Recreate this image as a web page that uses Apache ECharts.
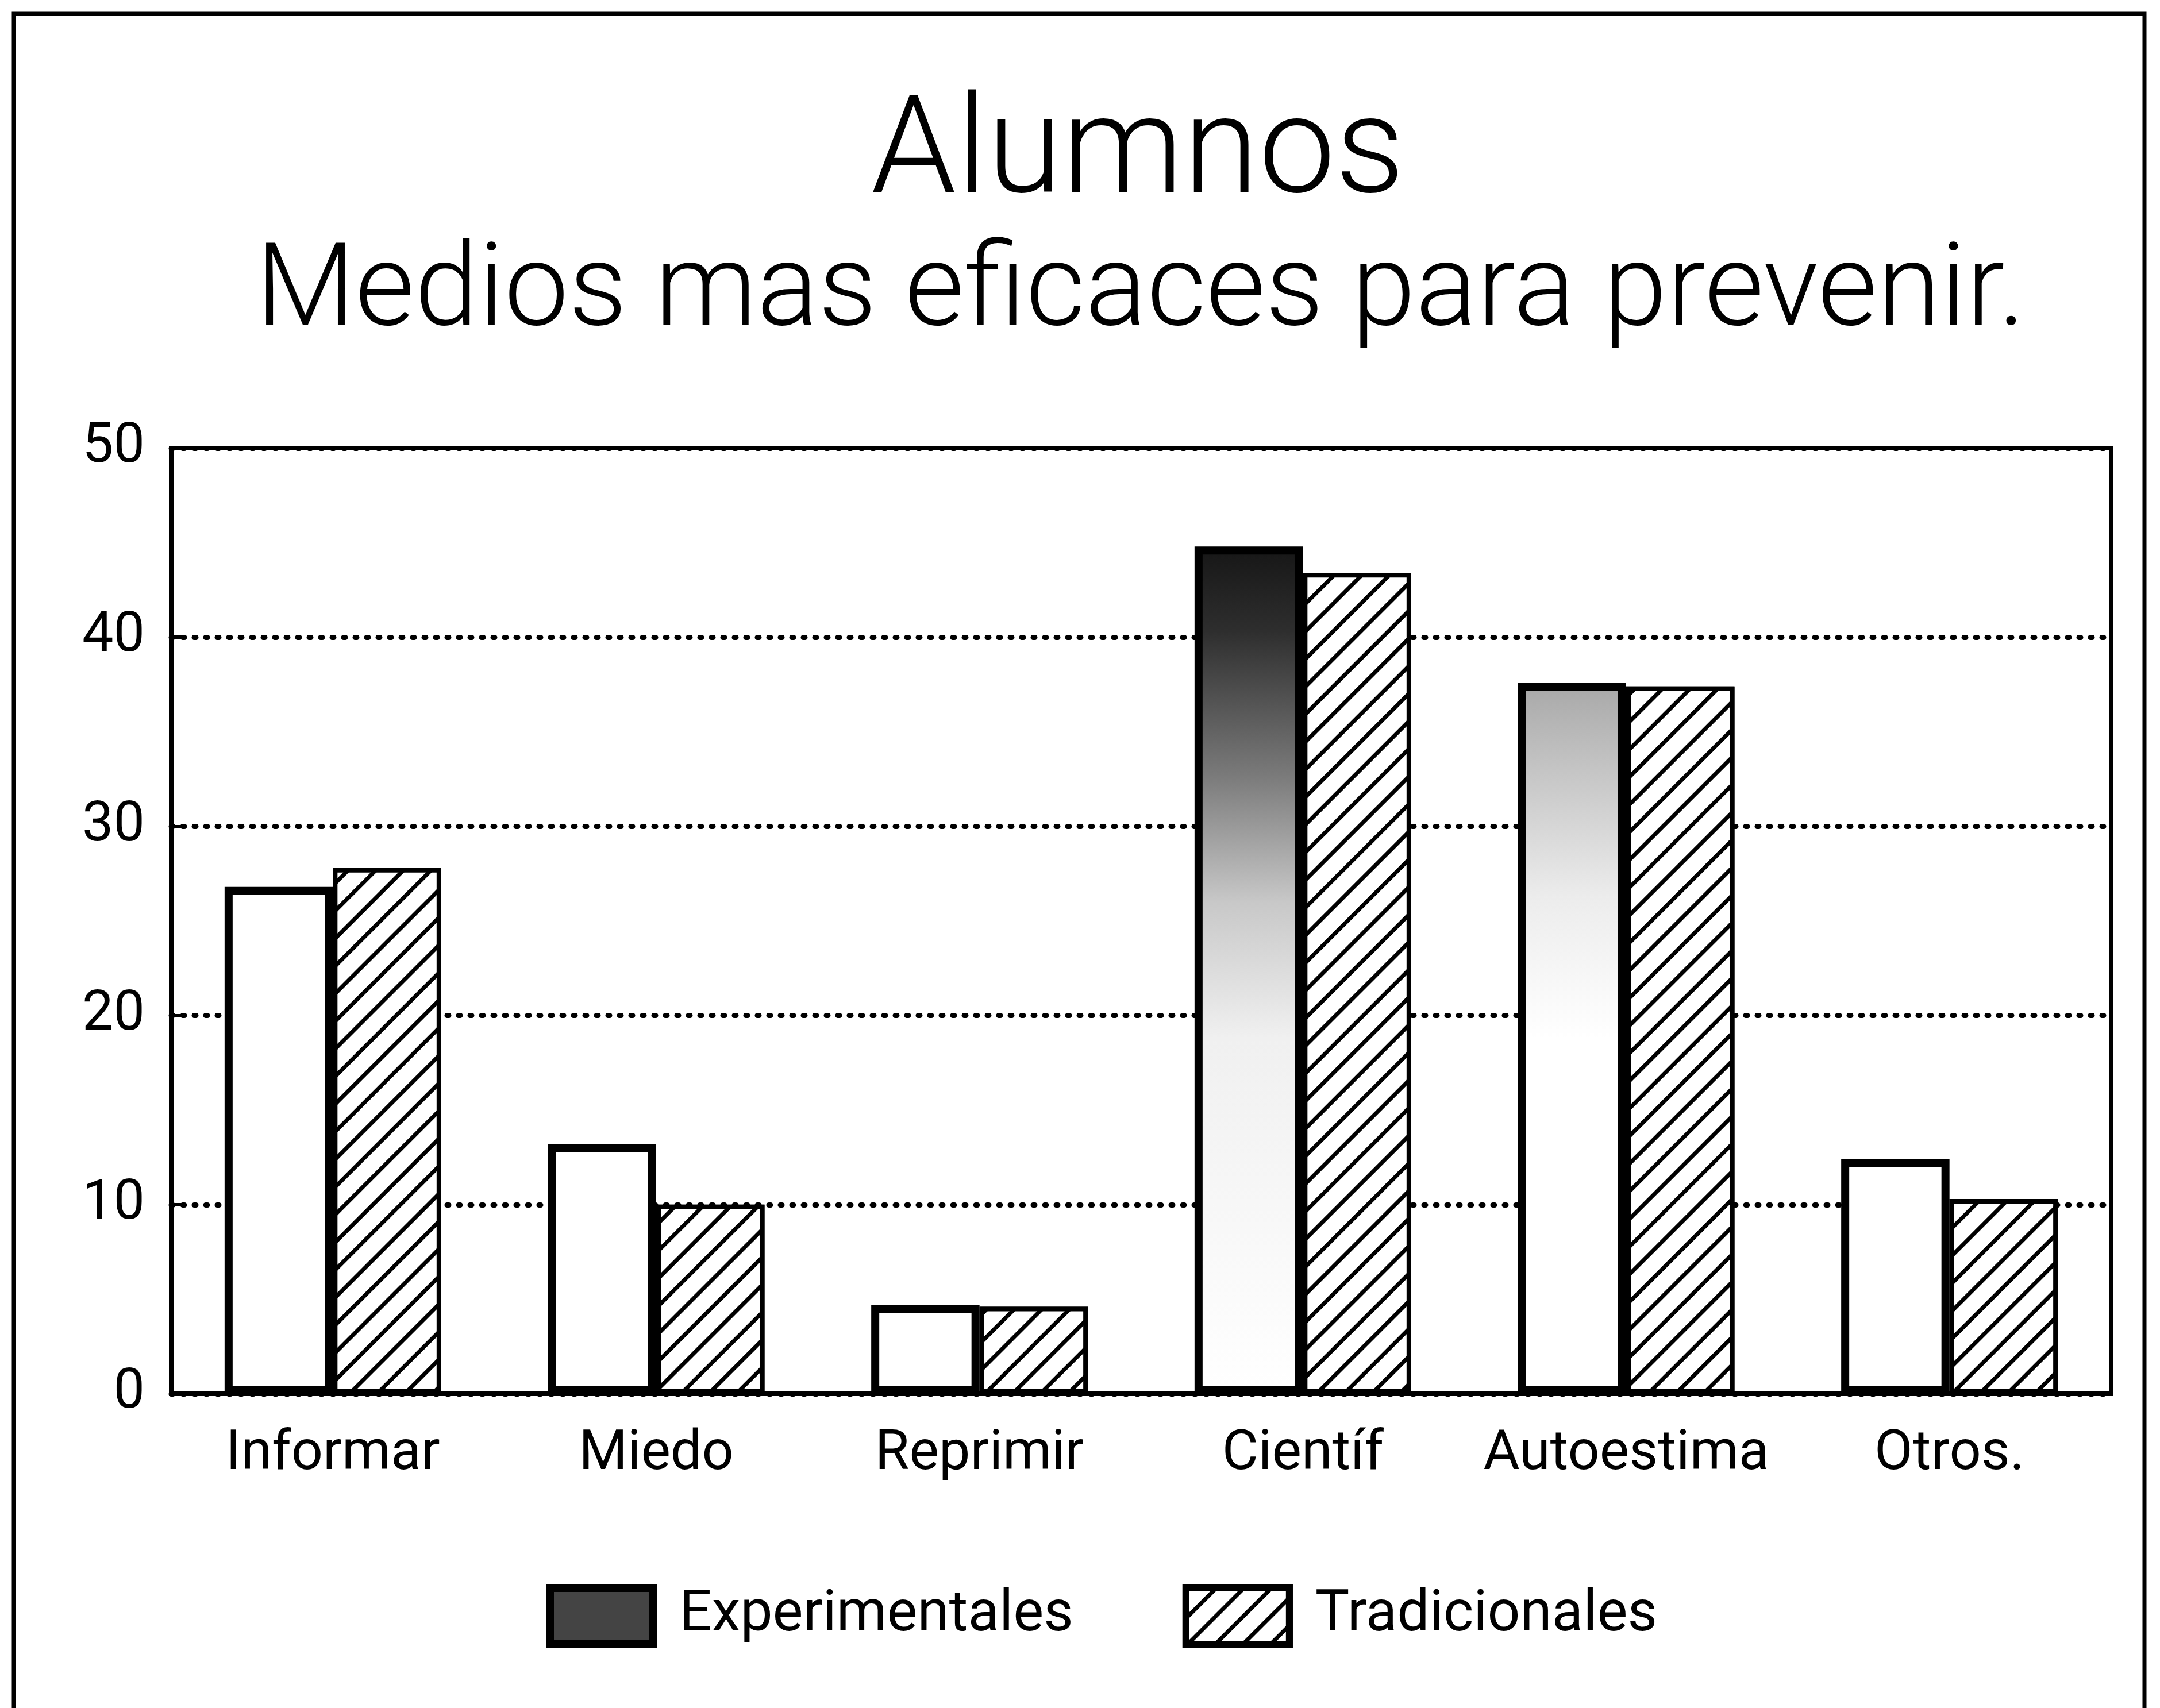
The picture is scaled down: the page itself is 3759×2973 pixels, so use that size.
<!DOCTYPE html>
<html lang="es">
<head>
    <meta charset="UTF-8">
    <title>Alumnos</title>
    <script src="https://cdn.jsdelivr.net/npm/echarts@6/dist/echarts.min.js"></script>
    <style>
        html, body { margin: 0; padding: 0; background: #fff; }
        #chart { width: 3759px; height: 2973px; }
    </style>
</head>
<body>
<div id="chart"></div>
<script type="text/javascript">
    // datos
    var categories = ['Informar', 'Miedo', 'Reprimir', 'Científ', 'Autoestima', 'Otros.'];
    var experimentales = [26.8, 13.2, 4.7, 44.8, 37.6, 12.4];
    var tradicionales = [27.8, 10.0, 4.6, 43.4, 37.4, 10.3];
    var yTicks = [0, 10, 20, 30, 40, 50];

    // sombreado de las barras experimentales (trama del original)
    var shades = {
        dark: {
            type: 'linear', x: 0, y: 0, x2: 0, y2: 1,
            colorStops: [
                {offset: 0, color: '#161616'},
                {offset: 0.1, color: '#2e2e2e'},
                {offset: 0.27, color: '#7a7a7a'},
                {offset: 0.42, color: '#c8c8c8'},
                {offset: 0.58, color: '#f0f0f0'},
                {offset: 1, color: '#ffffff'}
            ]
        },
        light: {
            type: 'linear', x: 0, y: 0, x2: 0, y2: 1,
            colorStops: [
                {offset: 0, color: '#a8a8a8'},
                {offset: 0.12, color: '#c4c4c4'},
                {offset: 0.3, color: '#ececec'},
                {offset: 0.5, color: '#ffffff'},
                {offset: 1, color: '#ffffff'}
            ]
        }
    };
    var expShade = [null, null, null, 'dark', 'light', null];

    var hatch = {
        symbol: 'rect',
        symbolSize: 1,
        color: '#000',
        backgroundColor: '#fff',
        dashArrayX: [1, 0],
        dashArrayY: [7, 27],
        rotation: -Math.PI / 4
    };

    var font = 'Roboto, "DejaVu Sans", sans-serif';

    var myChart = echarts.init(document.getElementById('chart'), null, {renderer: 'canvas'});

    var option = {
        backgroundColor: '#fff',
        animation: false,
        title: [{
            text: 'Alumnos',
            left: 1975,
            top: 150,
            textAlign: 'center',
            textStyle: {fontFamily: font, fontWeight: 300, fontSize: 238, color: '#000'}
        }, {
            text: 'Medios mas eficaces para prevenir.',
            left: 1980,
            top: 410,
            textAlign: 'center',
            textStyle: {fontFamily: font, fontWeight: 300, fontSize: 200, color: '#000'}
        }],
        legend: {
            left: 945,
            top: 2752,
            icon: 'rect',
            itemWidth: 180,
            itemHeight: 98,
            itemGap: 190,
            textStyle: {fontFamily: font, fontSize: 100, color: '#000', padding: [0, 0, 0, 40]},
            data: [{
                name: 'Experimentales',
                itemStyle: {color: '#444', borderColor: '#000', borderWidth: 14}
            }, {
                name: 'Tradicionales',
                itemStyle: {color: '#fff', borderColor: '#000', borderWidth: 12, decal: hatch}
            }]
        },
        grid: {
            left: 298,
            right: 85,
            top: 780,
            bottom: 547,
            show: true,
            borderColor: '#000',
            borderWidth: 8,
            containLabel: false
        },
        xAxis: {
            type: 'category',
            data: categories,
            axisLine: {lineStyle: {color: '#000', width: 8}},
            axisTick: {show: false},
            axisLabel: {interval: 0, fontFamily: font, fontSize: 97, color: '#000', margin: 58}
        },
        yAxis: {
            type: 'value',
            min: yTicks[0],
            max: yTicks[yTicks.length - 1],
            interval: 10,
            axisLine: {show: true, lineStyle: {color: '#000', width: 8}},
            axisTick: {show: true, inside: true, length: 22, lineStyle: {color: '#000', width: 6}},
            axisLabel: {fontFamily: font, fontSize: 97, color: '#000', margin: 46},
            splitLine: {show: true, lineStyle: {color: '#000', width: 9, type: [3, 17], cap: 'round'}}
        },
        graphic: [{
            type: 'rect',
            silent: true,
            shape: {x: 24, y: 24, width: 3708, height: 3100},
            style: {fill: 'none', stroke: '#000', lineWidth: 7}
        }],
        series: [{
            name: 'Experimentales',
            type: 'bar',
            barGap: '0%',
            barCategoryGap: '33%',
            itemStyle: {color: '#fff', borderColor: '#000', borderWidth: 14},
            data: experimentales.map(function (v, i) {
                if (expShade[i]) {
                    return {value: v, itemStyle: {color: shades[expShade[i]]}};
                }
                return v;
            })
        }, {
            name: 'Tradicionales',
            type: 'bar',
            barGap: '0%',
            barCategoryGap: '33%',
            itemStyle: {color: '#fff', borderColor: '#000', borderWidth: 8, decal: hatch},
            data: tradicionales
        }]
    };
    myChart.setOption(option);
</script>
</body>
</html>
